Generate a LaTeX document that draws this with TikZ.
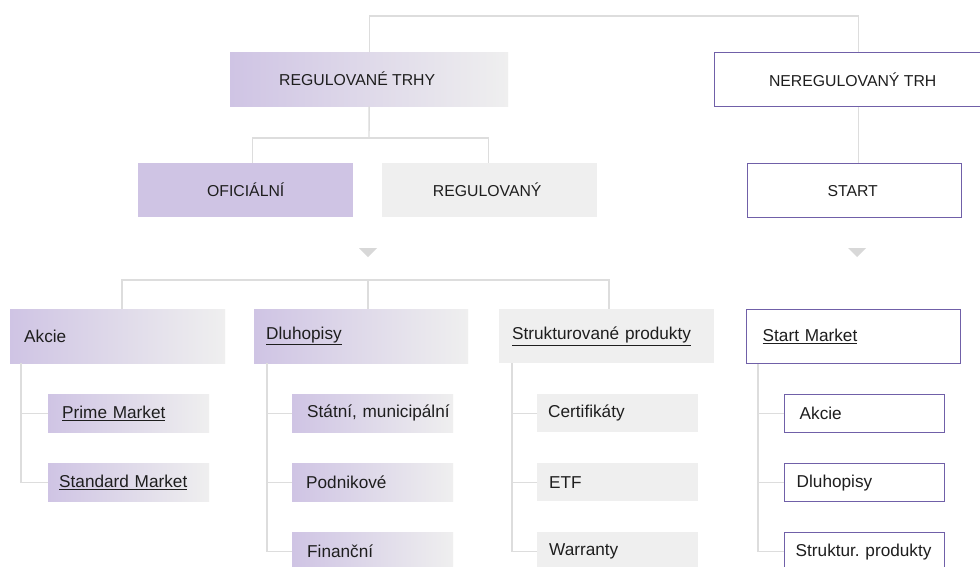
\documentclass[tikz,border=0pt]{standalone}
\usepackage{fontspec}
\setmainfont{Liberation Sans}
\definecolor{pfill}{HTML}{CFC4E4}
\definecolor{gfill}{HTML}{EFEFEF}
\definecolor{pline}{HTML}{7060A8}
\definecolor{cline}{HTML}{DDDDDD}
\definecolor{trig}{HTML}{D8D8D8}
\definecolor{txt}{HTML}{1E1E1E}
\newcommand{\padtxt}[2]{\hspace*{#1pt}\mbox{#2}}
\begin{document}
\begin{tikzpicture}[x=1pt,y=-1pt,
  base/.style={anchor=north west,inner ysep=0pt,text=txt,font=\fontsize{17.2}{20}\selectfont},
  capbox/.style={base,align=center,inner xsep=0pt,font=\fontsize{15.8}{18}\selectfont},
  leftbox/.style={base,align=left,inner xsep=0pt,text width=#1},
  grad/.style={left color=pfill,right color=gfill},
  purp/.style={fill=pfill},
  grey/.style={fill=gfill},
  outl/.style={draw=pline,line width=1.4pt,fill=white},
  conn/.style={draw=cline,line width=1.4pt},
  tri/.style={fill=trig}]
\clip (0,0) rectangle (980,566);
\fill[white] (0,0) rectangle (980,566);

% top level
\node[capbox,grad,minimum width=278,minimum height=54] (reg) at (230,52) {REGULOVANÉ TRHY\hspace*{24pt}};
\node[capbox,outl,minimum width=288,minimum height=54] (nereg) at (714,52) {NEREGULOVANÝ TRH\hspace*{12pt}};
% second level
\node[capbox,purp,minimum width=215,minimum height=54] (ofi) at (138,163) {OFICIÁLNÍ};
\node[capbox,grey,minimum width=215,minimum height=54] (regd) at (382,163) {REGULOVANÝ\hspace*{5pt}};
\node[capbox,outl,minimum width=214,minimum height=54] (start) at (747,163) {START\hspace*{4pt}};

% connectors top
\coordinate (t1) at (370,16);
\draw[conn] (reg.north) |- (t1) -| (nereg.north);
\coordinate (j1) at (369,138);
\draw[conn] (reg.south) -- (j1);
\draw[conn] ([xshift=6.5pt]ofi.north) |- (j1) -| ([xshift=-1.5pt]regd.north);
\draw[conn] (nereg.south) -- (nereg.south |- start.north);

% triangles
\fill[tri] (359,248) -- (377,248) -- (368,257) -- cycle;
\fill[tri] (848,248) -- (866,248) -- (857,257) -- cycle;

% third level
\node[leftbox=215,grad,minimum height=54] (akcie) at (10,309) {\padtxt{14}{Akcie}};
\node[leftbox=214,grad,minimum height=54] (dluh) at (254,309) {\padtxt{12}{\underline{Dluhopisy}}};
\node[leftbox=215,grey,minimum height=54] (strk) at (499,309) {\padtxt{13}{\underline{Strukturované produkty}}};
\node[leftbox=214,outl,minimum height=54] (smk) at (746,309) {\padtxt{16}{\underline{Start Market}}};

\coordinate (h1) at (122,280);
\coordinate (h2) at (368,280);
\coordinate (h3) at (609,280);
\draw[conn] (h1 |- akcie.north) -- (h1) -- (h3) -- (h3 |- strk.north);
\draw[conn] (h2) -- (h2 |- dluh.north);

% fourth level: Akcie
\node[leftbox=161,grad,minimum height=38] (prime) at (48,394) {\padtxt{14}{\underline{Prime Market}}};
\node[leftbox=161,grad,minimum height=38] (std) at (48,463) {\padtxt{11}{\underline{Standard Market}}};
\draw[conn] (prime.west) -| ([xshift=11pt]akcie.south west);
\draw[conn] (std.west) -| ([xshift=11pt]akcie.south west);

% Dluhopisy
\node[leftbox=161,grad,minimum height=38] (stat) at (292,394) {\padtxt{15}{Státní, municipální}};
\node[leftbox=161,grad,minimum height=38] (podn) at (292,463) {\padtxt{14}{Podnikové}};
\node[leftbox=161,grad,minimum height=38] (fin) at (292,532) {\padtxt{15}{Finanční}};
\draw[conn] (stat.west) -| ([xshift=13pt]dluh.south west);
\draw[conn] (podn.west) -| ([xshift=13pt]dluh.south west);
\draw[conn] (fin.west) -| ([xshift=13pt]dluh.south west);

% Strukturovane
\node[leftbox=161,grey,minimum height=38] (cert) at (537,394) {\padtxt{11}{Certifikáty}};
\node[leftbox=161,grey,minimum height=38] (etf) at (537,463) {\padtxt{12}{ETF}};
\node[leftbox=161,grey,minimum height=38] (warr) at (537,532) {\padtxt{12}{Warranty}};
\draw[conn] (cert.west) -| ([xshift=13pt]strk.south west);
\draw[conn] (etf.west) -| ([xshift=13pt]strk.south west);
\draw[conn] (warr.west) -| ([xshift=13pt]strk.south west);

% Start Market
\node[leftbox=160,outl,minimum height=38] (sakc) at (784,394) {\padtxt{15}{Akcie}};
\node[leftbox=160,outl,minimum height=38] (sdlu) at (784,463) {\padtxt{12}{Dluhopisy}};
\node[leftbox=160,outl,minimum height=38] (sstr) at (784,532) {\padtxt{11}{Struktur.\ produkty}};
\draw[conn] (sakc.west) -| ([xshift=12pt]smk.south west);
\draw[conn] (sdlu.west) -| ([xshift=12pt]smk.south west);
\draw[conn] (sstr.west) -| ([xshift=12pt]smk.south west);
\end{tikzpicture}
\end{document}
